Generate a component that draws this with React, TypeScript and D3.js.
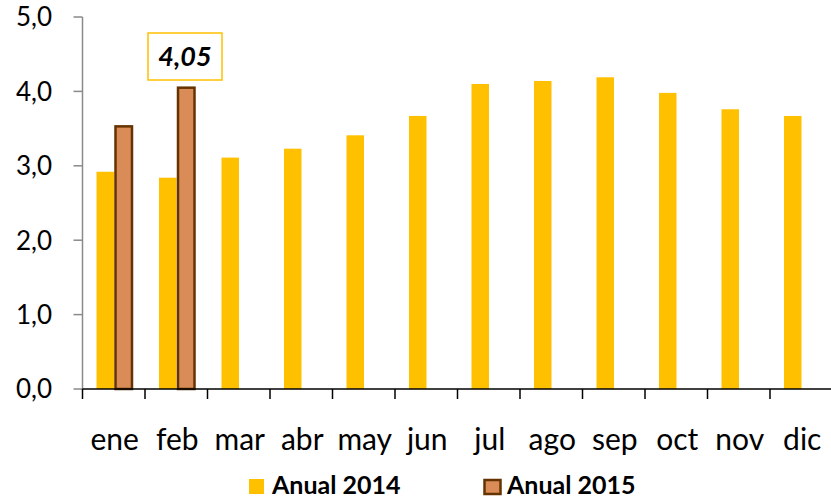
import React from "react";
import * as d3 from "d3";

const months = ["ene", "feb", "mar", "abr", "may", "jun", "jul", "ago", "sep", "oct", "nov", "dic"];
const anual2014 = [2.92, 2.84, 3.11, 3.23, 3.41, 3.67, 4.1, 4.14, 4.19, 3.98, 3.76, 3.67];
const anual2015 = [3.53, 4.05];
const yTicks = [0, 1, 2, 3, 4, 5];

const W = 831;
const H = 499;
const margin = { left: 82.5, right: 0, top: 17, bottom: 110 };

export default function App() {
  const x = d3.scaleBand<string>().domain(months).range([margin.left, margin.left + 62.5 * 12]);
  const y = d3.scaleLinear().domain([0, 5]).range([H - margin.bottom, margin.top]);
  const fmt = (v: number, d = 1) => v.toFixed(d).replace(".", ",");
  const barW = 17.5;
  const off = 14;
  const y0 = y(0);

  return (
    <svg width={W} height={H} style={{ position: "absolute", left: 0, top: 0 }}>
      <rect width={W} height={H} fill="#fff" />
      {/* 2014 bars */}
      {anual2014.map((v, i) => (
        <rect key={"a" + i} x={x(months[i])! + off} y={y(v)} width={barW} height={y0 - y(v)} fill="#FFC000" />
      ))}
      {/* 2015 bars */}
      {anual2015.map((v, i) => (
        <rect
          key={"b" + i}
          x={x(months[i])! + off + barW + 1.5}
          y={y(v)}
          width={barW - 1}
          height={y0 - y(v)}
          fill="#D98C57"
          stroke="#653300"
          strokeWidth={2.5}
        />
      ))}
      {/* y axis */}
      <line x1={margin.left} x2={margin.left} y1={y(5)} y2={y0} stroke="#8a8a8a" strokeWidth={1.5} />
      {yTicks.map((t) => (
        <g key={t}>
          <line x1={margin.left - 9} x2={margin.left} y1={y(t)} y2={y(t)} stroke="#8a8a8a" strokeWidth={1.5} />
          <text x={52} y={y(t)} dy="0.36em" textAnchor="end" fontFamily="Lato" fontSize={26} fill="#000">
            {fmt(t)}
          </text>
        </g>
      ))}
      {/* x axis */}
      <line x1={margin.left} x2={W} y1={y0} y2={y0} stroke="#000" strokeWidth={1.5} />
      {months.map((m, i) => (
        <g key={m}>
          <line x1={x(m)!} x2={x(m)!} y1={y0} y2={y0 + 10} stroke="#000" strokeWidth={1.5} />
          <text x={x(m)! + x.bandwidth() / 2 + 1} y={450} textAnchor="middle" fontFamily="Lato" fontSize={30} fill="#000">
            {m}
          </text>
        </g>
      ))}
      {/* data label */}
      <rect x={148} y={33} width={74} height={47} fill="#fff" stroke="#FFC000" strokeWidth={1.5} />
      <text x={185} y={66} textAnchor="middle" fontFamily="Lato" fontWeight="bold" fontStyle="italic" fontSize={27} fill="#000">
        {fmt(anual2015[1], 2)}
      </text>
      {/* legend */}
      <rect x={249} y={479} width={15} height={15} fill="#FFC000" />
      <text x={272} y={494} fontFamily="Lato" fontWeight="bold" fontSize={25} fill="#000">Anual 2014</text>
      <rect x={484.5} y={480} width={16} height={14} fill="#D98C57" stroke="#653300" strokeWidth={2.5} />
      <text x={507} y={494} fontFamily="Lato" fontWeight="bold" fontSize={25} fill="#000">Anual 2015</text>
    </svg>
  );
}
